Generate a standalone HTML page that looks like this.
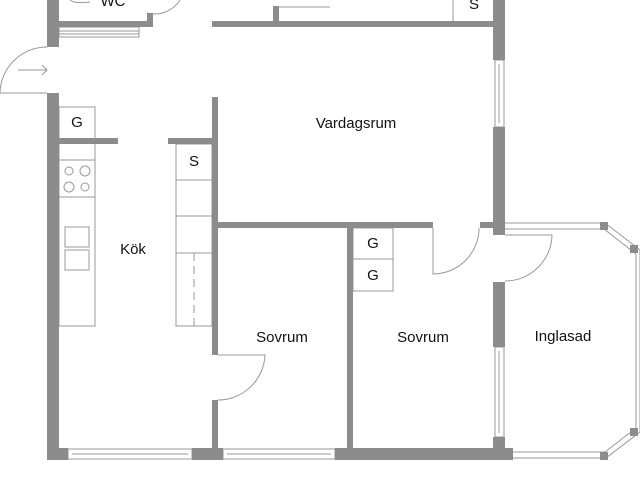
<!DOCTYPE html>
<html><head><meta charset="utf-8"><style>body{margin:0;background:#fff}svg{display:block}text{font-family:"Liberation Sans",sans-serif;font-size:15px;fill:#111}</style></head><body>
<svg width="640" height="480" viewBox="0 0 640 480">
<g fill="none" stroke="#999" stroke-width="1">
<!-- kitchen counters -->
<rect x="59" y="107" width="36" height="219"/>
<line x1="59" y1="160" x2="95" y2="160"/><line x1="59" y1="197" x2="95" y2="197"/>
<circle cx="69" cy="171" r="4"/><circle cx="85" cy="171" r="5"/><circle cx="69" cy="187" r="5"/><circle cx="85" cy="187" r="4"/>
<rect x="65" y="227" width="24" height="20"/><rect x="65" y="250" width="24" height="20"/>
<rect x="176" y="144" width="36" height="182"/>
<line x1="176" y1="180" x2="212" y2="180"/><line x1="176" y1="216" x2="212" y2="216"/><line x1="176" y1="253" x2="212" y2="253"/>
<line x1="194" y1="253" x2="194" y2="326" stroke-dasharray="8,5"/>
<rect x="353" y="228" width="40" height="63"/><line x1="353" y1="259" x2="393" y2="259"/>
<line x1="453" y1="0" x2="453" y2="21"/>
<line x1="279" y1="7" x2="330" y2="7"/>
<!-- doors -->
<path d="M0 93 L47 93 M47 47 A47 47 0 0 0 0 93"/>
<path d="M18 70 L47 70 M42 65 L47 70 L42 75"/>
<path d="M218 355 L265 355 A47 47 0 0 1 218 400"/>
<path d="M433 228 L433 274 A46 46 0 0 0 479 228"/>
<path d="M552 235 L552 235 A47 47 0 0 1 505 281 M505 235 L552 235"/>
<path d="M147 13 A30 30 0 0 0 180 0"/>
<path d="M70 0 Q75 4 90 2"/>
<!-- windows -->
<rect x="59" y="27" width="80" height="10"/><line x1="59" y1="31" x2="139" y2="31"/><line x1="59" y1="34" x2="139" y2="34"/>
<rect x="495" y="60" width="9" height="67"/><line x1="499" y1="64" x2="499" y2="123"/>
<rect x="495" y="347" width="9" height="90"/><line x1="499" y1="351" x2="499" y2="433"/>
<rect x="68" y="449" width="124" height="10"/><line x1="72" y1="454" x2="188" y2="454"/>
<rect x="223" y="449" width="112" height="10"/><line x1="227" y1="454" x2="331" y2="454"/>
<path d="M505 223 L605 223 L640 250 M505 229 L604 229 L636 254"/>
<path d="M636 254 L636 428 M640 250 L640 432"/>
<path d="M513 452 L605 452 L636 428 M513 458 L606 458 L640 432"/>
</g>
<g fill="#8c8c8c">
<rect x="47" y="0" width="12" height="47"/>
<rect x="47" y="93" width="12" height="367"/>
<rect x="59" y="21" width="93" height="6"/><rect x="147" y="13" width="6" height="14"/>
<rect x="212" y="21" width="285" height="6"/><rect x="273" y="6" width="6" height="21"/>
<rect x="493" y="0" width="12" height="60"/><rect x="493" y="127" width="12" height="108"/>
<rect x="59" y="138" width="59" height="6"/><rect x="168" y="138" width="50" height="6"/>
<rect x="212" y="97" width="6" height="258"/><rect x="212" y="400" width="6" height="60"/>
<rect x="218" y="222" width="215" height="6"/><rect x="480" y="222" width="25" height="6"/>
<rect x="347" y="228" width="6" height="232"/>
<rect x="493" y="282" width="12" height="65"/><rect x="493" y="437" width="12" height="23"/>
<rect x="47" y="448" width="21" height="12"/><rect x="192" y="448" width="31" height="12"/><rect x="335" y="448" width="178" height="12"/>
<rect x="600" y="222" width="8" height="8"/><rect x="630" y="245" width="8" height="8"/>
<rect x="630" y="428" width="8" height="8"/><rect x="600" y="452" width="8" height="8"/>
</g>
<text x="356" y="128" text-anchor="middle">Vardagsrum</text>
<text x="133" y="254" text-anchor="middle">Kök</text>
<text x="282" y="342" text-anchor="middle">Sovrum</text>
<text x="423" y="342" text-anchor="middle">Sovrum</text>
<text x="563" y="341" text-anchor="middle">Inglasad</text>
<text x="113" y="6" text-anchor="middle">WC</text>
<text x="77" y="127" text-anchor="middle">G</text>
<text x="194" y="166" text-anchor="middle">S</text>
<text x="373" y="248" text-anchor="middle">G</text>
<text x="373" y="280" text-anchor="middle">G</text>
<text x="474" y="9" text-anchor="middle">S</text>
</svg>
</body></html>
